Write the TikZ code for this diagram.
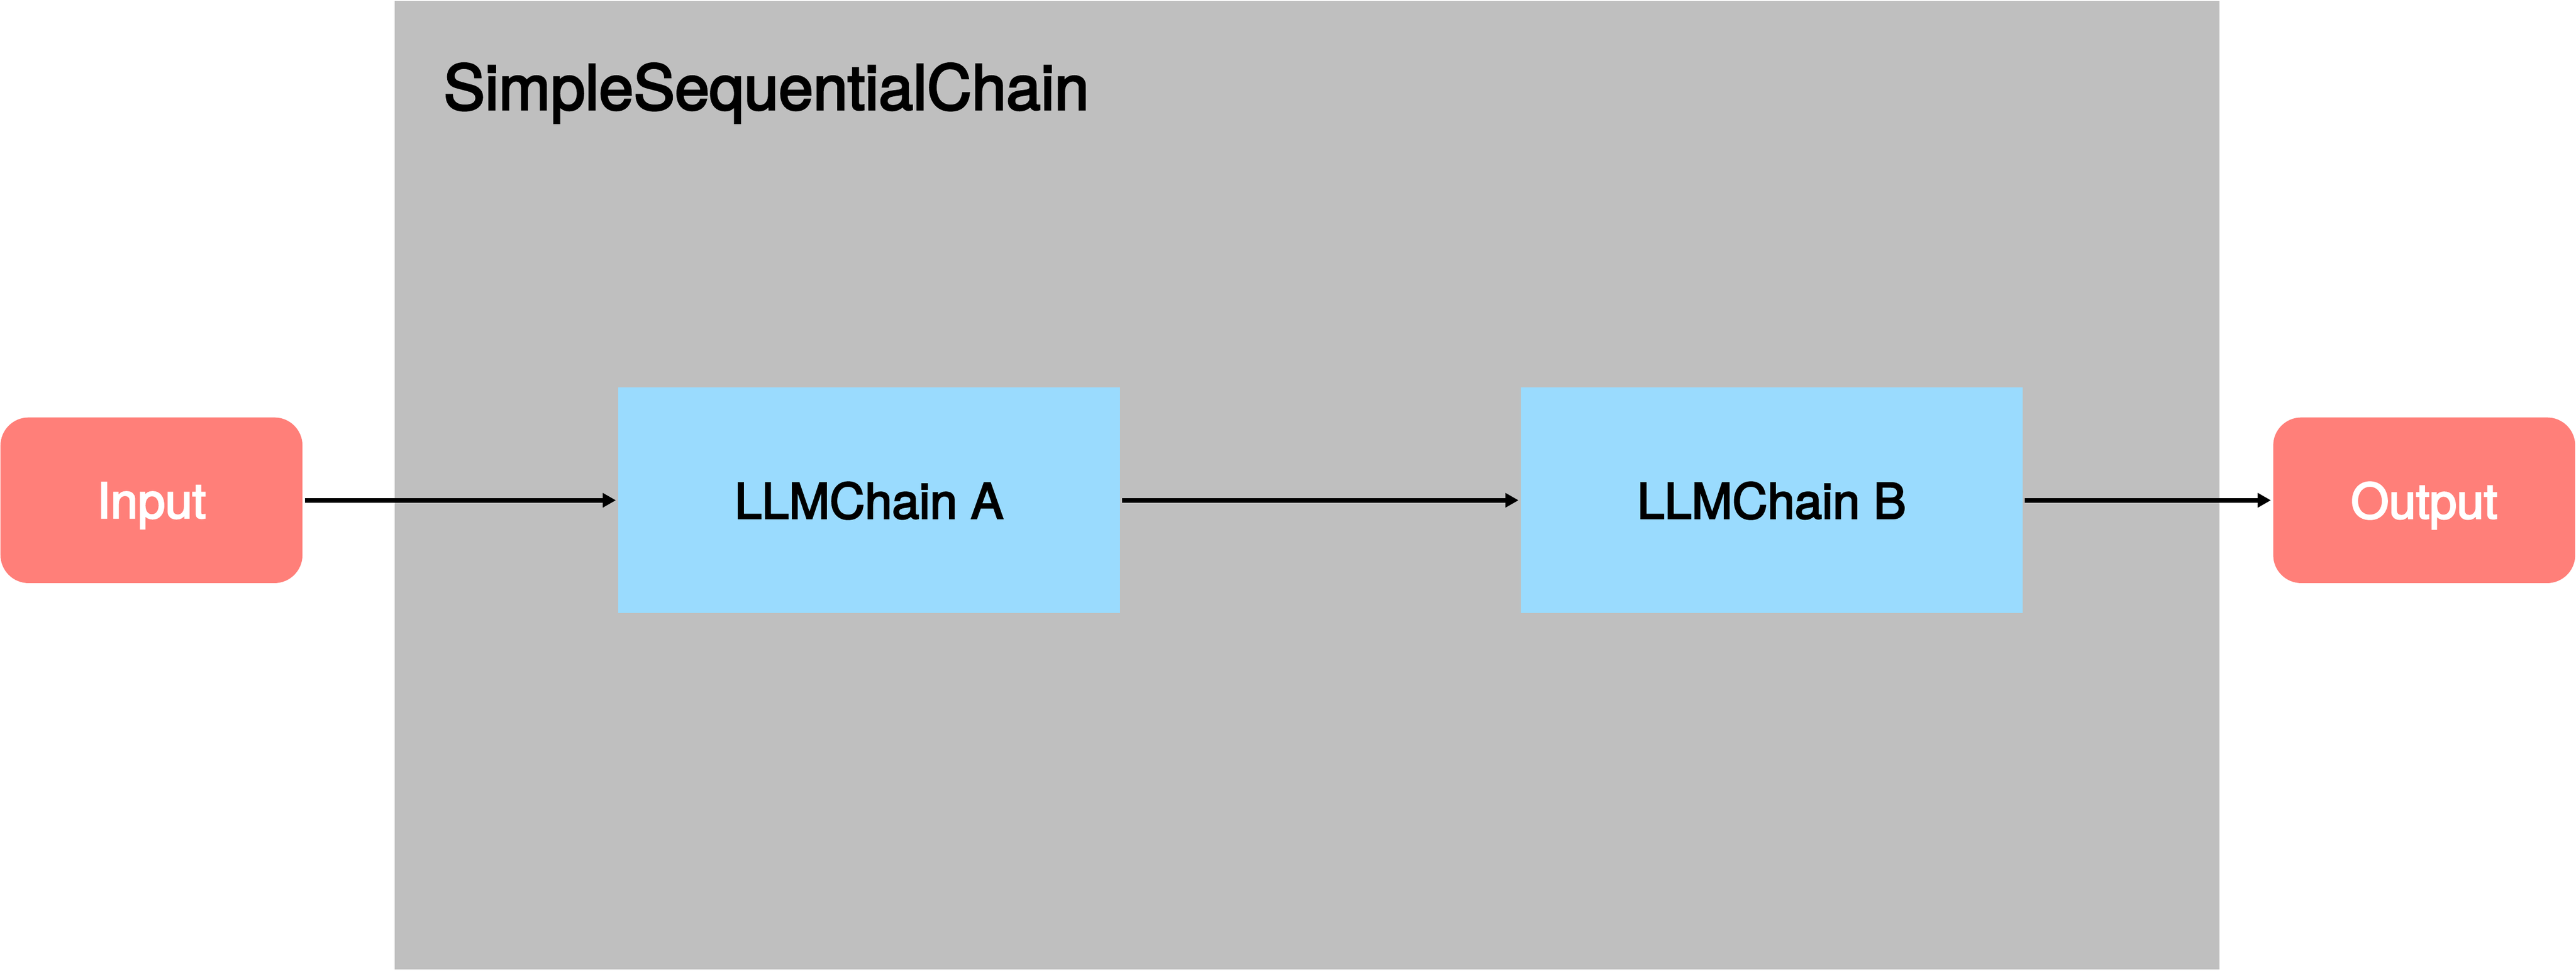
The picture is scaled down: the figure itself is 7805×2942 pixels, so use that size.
\documentclass[tikz,border=0pt]{standalone}
\usepackage{fontspec}
\setmainfont{TeX Gyre Heros}
\newfontfamily\medfont{TeX Gyre Heros}[RawFeature={embolden=3}]
\usetikzlibrary{arrows.meta}
\definecolor{chaingray}{RGB}{191,191,191}
\definecolor{llmblue}{RGB}{154,219,254}
\definecolor{iored}{RGB}{255,127,121}
\tikzset{every picture/.style={line width=1.4pt}}
\begin{document}
\begin{tikzpicture}[x=0.1pt,y=0.1pt,yscale=-1,xscale=1,
  iobox/.style={fill=iored, rounded corners=8.5pt, minimum width=91.5pt, minimum height=50.2pt, inner sep=0pt, text depth=0pt, text=white, font=\fontsize{14.8pt}{17pt}\medfont},
  chainbox/.style={fill=llmblue, minimum width=152pt, minimum height=68.3pt, inner sep=0pt, text depth=0pt, font=\fontsize{14.8pt}{17pt}\medfont},
  link/.style={-{Triangle[length=4pt,width=4.2pt]}, line width=1.4pt}]
\useasboundingbox (0,0) rectangle (7805,2942);

%Shape: Rectangle [id:chain]
\fill [chaingray] (1196,3) rectangle (6725,2938);
% Text Node
\node (title) [anchor=base west, inner sep=0pt, font=\fontsize{18.8pt}{22pt}\medfont] at (1337,332) {SimpleSequentialChain};

% Text Node
\node (input) [iobox] at (459,1516) {Input};
% Text Node
\node (chainA) [chainbox] at (2633,1516) {LLMChain A};
% Text Node
\node (chainB) [chainbox] at (5368,1516) {LLMChain B};
% Text Node
\node (output) [iobox] at (7345,1516) {Output};

%Straight Lines
\draw [link] (input.east) -- (chainA.west);
%Straight Lines
\draw [link] (chainA.east) -- (chainB.west);
%Straight Lines
\draw [link] (chainB.east) -- (output.west);

\end{tikzpicture}
\end{document}
